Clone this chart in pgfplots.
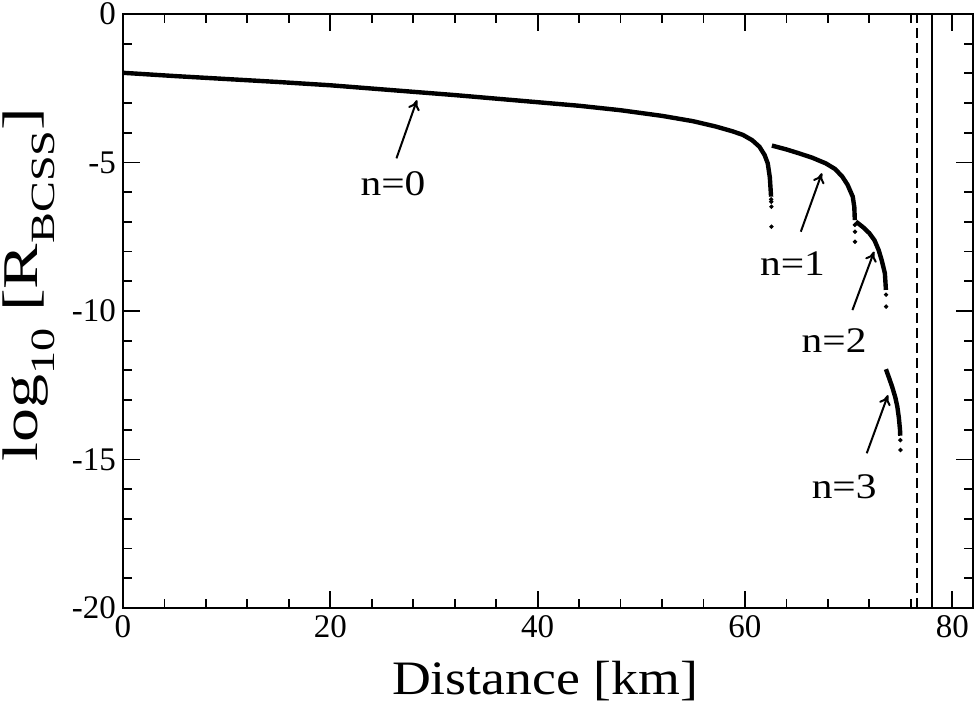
\documentclass[border=0pt]{standalone}
\usepackage{fontspec}
\setmainfont{Liberation Serif}
\usepackage{graphicx}
\usepackage{pgfplots}
\pgfplotsset{compat=1.18}
\usetikzlibrary{arrows.meta}
\newcommand{\nlab}[1]{\scalebox{1.15}[1]{\fontsize{18}{21}\selectfont #1}}
\begin{document}
\begin{tikzpicture}
\useasboundingbox (-61.5pt,-51pt) rectangle (427pt,304pt);
\begin{axis}[
  at={(0,0)}, anchor=south west,
  scale only axis, width=425pt, height=297pt,
  xmin=0, xmax=82, ymin=-20, ymax=0,
  xtick={0,20,40,60,80}, ytick={-20,-15,-10,-5,0},
  minor x tick num=4, minor y tick num=4,
  tick align=inside, xtick pos=both, ytick pos=both,
  major tick length=8.5pt, minor tick length=4.5pt,
  axis line style={line width=1pt},
  every tick/.style={line width=0.9pt, black},
  /pgf/number format/assume math mode=true,
  tick label style={font=\fontsize{16.5}{18}\selectfont},
  xlabel={\scalebox{1.12}[1]{\fontsize{24}{28}\selectfont Distance [km]}},
  ylabel={\scalebox{1.36}[1]{\fontsize{25}{29}\selectfont log\raisebox{-8.3pt}{\fontsize{17}{18}\selectfont 10} [R\raisebox{-8.3pt}{\fontsize{17}{18}\selectfont BCSS}]}},
  x label style={at={(axis description cs:0.4965,-0.1229)}, anchor=center},
  y label style={at={(axis description cs:-0.111,0.544)}, anchor=center},
  clip=false,
]
% n=0
\addplot[black, line width=2.2pt, line join=round] coordinates {
(0,-1.98) (5,-2.09) (10,-2.19) (15,-2.29) (20,-2.40) (24,-2.51) (28,-2.62) (32,-2.73)
(36,-2.85) (40,-2.97) (44,-3.09) (48,-3.24) (52,-3.43) (55,-3.61) (57.2,-3.79)
(58.8,-3.95) (59.8,-4.07) (60.7,-4.25) (61.4,-4.47) (61.9,-4.75) (62.2,-5.03)
(62.4,-5.5) (62.5,-6.04) (62.52,-6.15)};
\addplot[black, only marks, mark=*, mark size=0.9pt] coordinates {
(62.53,-6.24) (62.54,-6.32) (62.55,-6.49) (62.56,-7.16)};
% n=1
\addplot[black, line width=2.2pt, line join=round] coordinates {
(62.6,-4.43) (64,-4.56) (65.2,-4.69) (66.5,-4.84) (67.8,-5.03) (68.7,-5.22)
(69.4,-5.48) (69.9,-5.75) (70.4,-6.15) (70.55,-6.5) (70.6,-6.94)};
\addplot[black, only marks, mark=*, mark size=0.9pt] coordinates {
(70.61,-7.1) (70.62,-7.33) (70.62,-7.67)};
% n=2
\addplot[black, line width=2.2pt, line join=round] coordinates {
(70.7,-6.99) (71.4,-7.18) (72.0,-7.38) (72.5,-7.62) (72.9,-7.95) (73.2,-8.3)
(73.5,-8.73) (73.6,-9.29)};
\addplot[black, only marks, mark=*, mark size=0.9pt] coordinates {
(73.61,-9.45) (73.62,-9.85)};
% n=3
\addplot[black, line width=2.2pt, line join=round] coordinates {
(73.6,-11.96) (73.9,-12.25) (74.2,-12.55) (74.5,-12.9) (74.7,-13.22)
(74.85,-13.6) (74.96,-14.0) (74.98,-14.2)};
\addplot[black, only marks, mark=*, mark size=0.9pt] coordinates {
(74.99,-14.35) (75.0,-14.68)};
% vertical lines
\addplot[black, line width=1pt, dash pattern=on 5pt off 2.5pt] coordinates {(76.6,-20) (76.6,0)};
\addplot[black, line width=1pt] coordinates {(78,-20) (78,0)};
% arrows and labels
\draw[line width=1pt, -{To[length=5pt,width=6pt]}] (axis cs:26.38,-4.86) -- (axis cs:28.36,-2.90);
\draw[line width=1pt, -{To[length=5pt,width=6pt]}] (axis cs:65.39,-7.33) -- (axis cs:67.42,-5.36);
\draw[line width=1pt, -{To[length=5pt,width=6pt]}] (axis cs:70.37,-9.97) -- (axis cs:72.46,-8.00);
\draw[line width=1pt, -{To[length=5pt,width=6pt]}] (axis cs:71.75,-14.79) -- (axis cs:73.8,-12.83);
\node at (axis cs:26.05,-5.70) {\nlab{n=0}};
\node at (axis cs:64.59,-8.39) {\nlab{n=1}};
\node at (axis cs:68.6,-10.98) {\nlab{n=2}};
\node at (axis cs:69.57,-15.92) {\nlab{n=3}};
\end{axis}
\end{tikzpicture}
\end{document}
